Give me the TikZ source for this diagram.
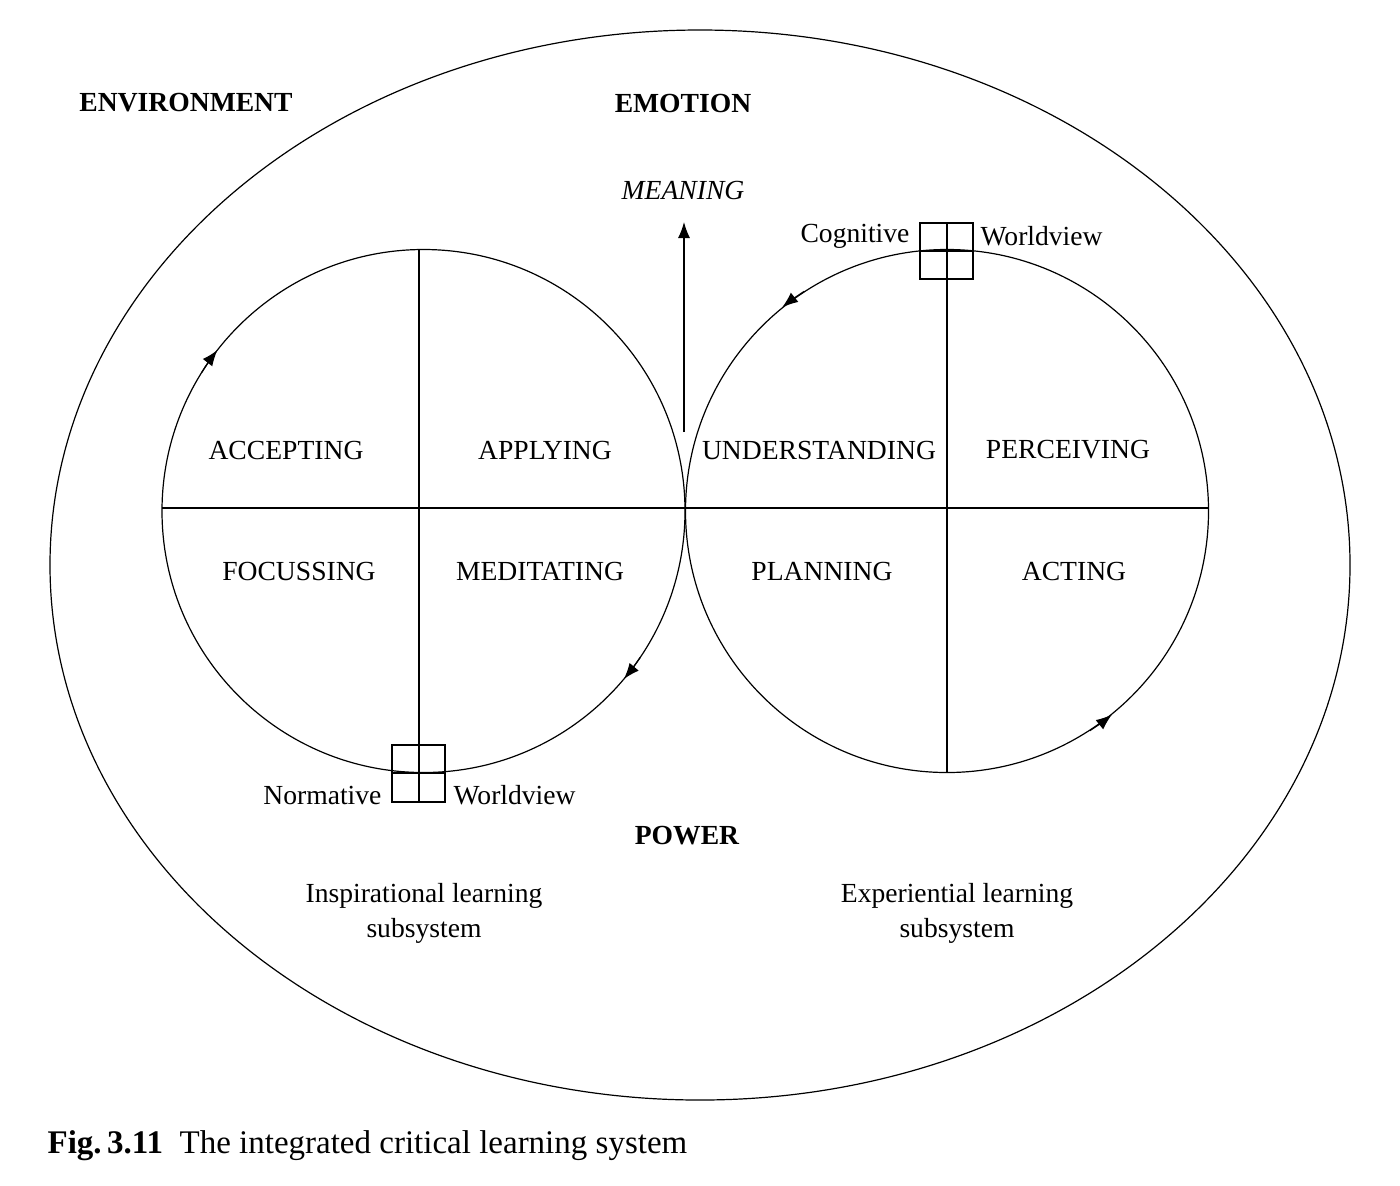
\documentclass[tikz,border=0pt]{standalone}
\usepackage{fontspec}
\setmainfont{Liberation Serif}
\usetikzlibrary{arrows.meta}
\begin{document}
\begin{tikzpicture}[x=0.5pt,y=-0.5pt,line width=0.6pt,
  lab/.style={font=\fontsize{13.8}{16}\selectfont,inner sep=0pt},
  hd/.style={font=\fontsize{13.8}{16}\selectfont\bfseries,inner sep=0pt},
  tip/.style={-{Latex[length=8pt,width=6pt]}}]
\useasboundingbox (0,0) rectangle (1400,1185);
\draw (700,565) ellipse [x radius=650, y radius=535];
\node[circle,draw,minimum size=523*0.5pt,inner sep=0pt] (L) at (423.5,511) {};
\node[circle,draw,minimum size=523*0.5pt,inner sep=0pt] (R) at (947,511) {};
\coordinate (hl) at (162,508); \coordinate (hr) at (1209,508);
\draw (hl) -- (hr);
\coordinate (lt) at (419,250); \coordinate (lb) at (419,773);
\coordinate (rt) at (947,250); \coordinate (rb) at (947,773);
\draw (lt) -- (lb); \draw (rt) -- (rb);
% boxes
\draw (920,223) rectangle (973,279); \draw (920,251) -- (973,251); \draw (947,223)--(947,250);
\draw (392,745) rectangle (445,802); \draw (392,773) -- (445,773); \draw (419,773)--(419,802);
% circle arrows
\draw[tip] ([shift={(212:261.5)}]423.5,511) arc[start angle=212,end angle=218,radius=261.5];
\draw[tip] ([shift={(34:261.5)}]423.5,511) arc[start angle=34,end angle=40,radius=261.5];
\draw[tip] ([shift={(237:262)}]947,511) arc[start angle=237,end angle=231,radius=262];
\draw[tip] ([shift={(57:262)}]947,511) arc[start angle=57,end angle=51,radius=262];
% meaning
\coordinate (m0) at (684,432);
\node[lab,font=\fontsize{13.8}{16}\selectfont\itshape] (mean) at (683,190) {MEANING};
\draw[tip] (m0) -- (684,222);
\node[hd] (env) at (186,103) {ENVIRONMENT};
\node[hd] (emo) at (683,103) {EMOTION};
\node[hd] (pow) at (687,836) {POWER};
\node[lab] (acc) at (286,450) {ACCEPTING};
\node[lab] (app) at (545,450) {APPLYING};
\node[lab] (foc) at (299,571) {FOCUSSING};
\node[lab] (med) at (540,571) {MEDITATING};
\node[lab] (und) at (819,450) {UNDERSTANDING};
\node[lab] (per) at (1068,450) {PERCEIVING};
\node[lab] (pla) at (822,571) {PLANNING};
\node[lab] (act) at (1074,571) {ACTING};
\node[lab,anchor=east] (cog) at (910,236) {Cognitive};
\node[lab,anchor=west] (wv1) at (980,236) {Worldview};
\node[lab,anchor=east] (nor) at (382,795) {Normative};
\node[lab,anchor=west] (wv2) at (453,795) {Worldview};
\node[lab,align=center,font=\fontsize{13.8}{17.5}\selectfont] (ins) at (424,913) {Inspirational learning\\subsystem};
\node[lab,align=center,font=\fontsize{13.8}{17.5}\selectfont] (exp) at (957,913) {Experiential learning\\subsystem};
\node[lab,anchor=west,font=\fontsize{16.5}{19}\selectfont] (cap) at (47,1146) {\textbf{Fig.\,3.11}\hspace{0.5em}The integrated critical learning system};
\end{tikzpicture}
\end{document}
